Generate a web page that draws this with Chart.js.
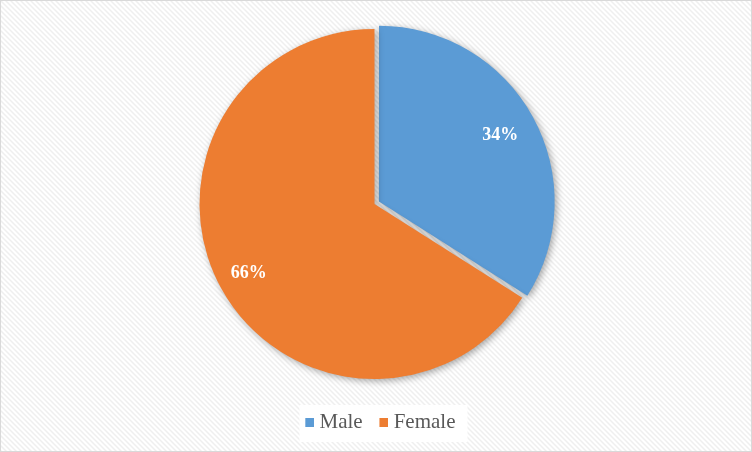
<!DOCTYPE html>
<html>
<head>
<meta charset="utf-8">
<script src="https://cdn.jsdelivr.net/npm/chart.js@4.4.0/dist/chart.umd.min.js"></script>
<style>
  html, body { margin: 0; padding: 0; background: #fff; }
  #wrap { width: 752px; height: 452px; }
</style>
</head>
<body>
<div id="wrap"><canvas id="pieChart" width="752" height="452"></canvas></div>
<script>
// data
const categories = ["Male", "Female"];
const shares = [34, 66];
const sliceColors = ["#5B9BD5", "#ED7D31"];
const sliceOffsets = [20, 0]; // chart.js divides this by 4 -> ~5px pull-out

// striped background like the office chart area
function stripePattern(ctx) {
  const c = document.createElement("canvas");
  c.width = 5; c.height = 5;
  const p = c.getContext("2d");
  p.fillStyle = "#ffffff";
  p.fillRect(0, 0, 5, 5);
  p.strokeStyle = "#efefef";
  p.lineWidth = 1.5;
  p.beginPath();
  p.moveTo(-1, -1); p.lineTo(6, 6);
  p.moveTo(-1, 4); p.lineTo(1, 6);
  p.moveTo(4, -1); p.lineTo(6, 1);
  p.stroke();
  return ctx.createPattern(c, "repeat");
}

// legend marker: 9px square sitting at the right of a wider canvas,
// so the gap to the text is smaller than chart.js' default
function legendMarker(color) {
  const c = document.createElement("canvas");
  c.width = 26; c.height = 9;
  const p = c.getContext("2d");
  p.fillStyle = color;
  p.fillRect(17, 0, 9, 9);
  return c;
}

const backdrop = {
  id: "backdrop",
  beforeDraw(chart) {
    const ctx = chart.ctx;
    ctx.save();
    ctx.fillStyle = stripePattern(ctx);
    ctx.fillRect(0, 0, chart.width, chart.height);
    ctx.strokeStyle = "#d9d9d9";
    ctx.lineWidth = 1;
    ctx.strokeRect(0.5, 0.5, chart.width - 1, chart.height - 1);
    // white box behind the legend
    const boxes = chart.legend.legendHitBoxes;
    if (boxes && boxes.length) {
      const l = Math.min(...boxes.map(b => b.left)) + 6;
      const r = Math.max(...boxes.map(b => b.left + b.width)) + 12;
      const t = Math.min(...boxes.map(b => b.top)) - 7;
      const btm = Math.max(...boxes.map(b => b.top + b.height)) + 9;
      ctx.fillStyle = "#ffffff";
      ctx.fillRect(l, t, r - l, btm - t);
    }
    ctx.restore();
  }
};

const pieShadow = {
  id: "pieShadow",
  beforeDatasetsDraw(chart) {
    const ctx = chart.ctx;
    ctx.save();
    ctx.shadowColor = "rgba(0,0,0,0.35)";
    ctx.shadowBlur = 7;
    ctx.shadowOffsetX = 2;
    ctx.shadowOffsetY = 2;
  },
  afterDatasetsDraw(chart) {
    chart.ctx.restore();
    // percent labels
    const ctx = chart.ctx;
    const meta = chart.getDatasetMeta(0);
    const total = shares.reduce((a, b) => a + b, 0);
    ctx.save();
    ctx.fillStyle = "#ffffff";
    ctx.font = "bold 18px 'Liberation Serif', 'Times New Roman', serif";
    ctx.textAlign = "center";
    ctx.textBaseline = "middle";
    meta.data.forEach((arc, i) => {
      const p = arc.getProps(["x", "y", "startAngle", "endAngle", "outerRadius"], true);
      const mid = (p.startAngle + p.endAngle) / 2;
      const r = p.outerRadius * 0.82;
      const txt = Math.round(shares[i] / total * 100) + "%";
      ctx.fillText(txt, p.x + Math.cos(mid) * r, p.y + Math.sin(mid) * r);
    });
    ctx.restore();
  }
};

const markers = sliceColors.map(legendMarker);

const ctx = document.getElementById("pieChart").getContext("2d");
new Chart(ctx, {
  type: "pie",
  data: {
    labels: categories,
    datasets: [{
      data: shares,
      backgroundColor: sliceColors,
      borderWidth: 0,
      offset: sliceOffsets
    }]
  },
  options: {
    responsive: false,
    animation: false,
    radius: 175,
    layout: { padding: { top: 1, bottom: 9, left: 0, right: 3 } },
    plugins: {
      tooltip: { enabled: false },
      legend: {
        position: "bottom",
        labels: {
          usePointStyle: true,
          pointStyleWidth: 15.5,
          boxHeight: 9,
          padding: 5,
          color: "#595959",
          font: { family: "'Liberation Serif', 'Times New Roman', serif", size: 21 },
          generateLabels(chart) {
            const items = Chart.overrides.pie.plugins.legend.labels.generateLabels(chart);
            items.forEach((it, i) => { it.pointStyle = markers[i]; });
            return items;
          }
        }
      }
    }
  },
  plugins: [backdrop, pieShadow]
});
</script>
</body>
</html>
